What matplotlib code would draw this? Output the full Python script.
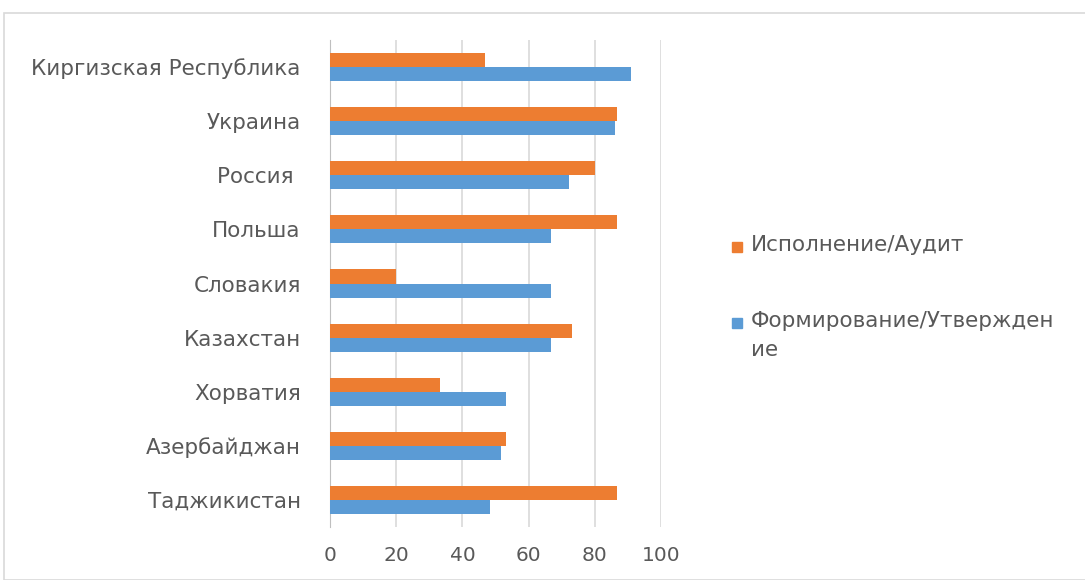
"""Horizontal grouped bar chart: budget process stages by country."""

import matplotlib

matplotlib.use("Agg")
import matplotlib.pyplot as plt  # noqa: E402
from matplotlib.patches import Rectangle  # noqa: E402
import numpy as np  # noqa: E402

# bottom to top
countries = ["Таджикистан", "Азербайджан", "Хорватия", "Казахстан", "Словакия",
             "Польша", "Россия ", "Украина", "Киргизская Республика"]
audit = [86.7, 53.1, 33.3, 73.0, 20.0, 86.7, 80.0, 86.7, 46.8]
formation = [48.2, 51.6, 53.1, 66.7, 66.7, 66.7, 72.3, 86.0, 90.9]
ticks = [0, 20, 40, 60, 80, 100]

ORANGE = "#ed7d31"
BLUE = "#5b9bd5"
GREY = "#595959"
W, H = 1085, 580

plt.rcParams["font.family"] = ["DejaVu Sans"]

fig = plt.figure(figsize=(W / 100, H / 100), dpi=100)
fig.patches.append(Rectangle((4 / W, 0), 1.2, 1 - 13 / H, transform=fig.transFigure,
                             fill=False, edgecolor="#d9d9d9", linewidth=1.2))

ax = fig.add_axes([330 / W, 53 / H, 331 / W, 487 / H])
y = np.arange(len(countries))
h = 0.26
ax.barh(y + h / 2, audit, height=h, color=ORANGE, label="Исполнение/Аудит", zorder=3)
ax.barh(y - h / 2, formation, height=h, color=BLUE, label="Формирование/Утверждение", zorder=3)

ax.set_xlim(0, 100)
ax.set_ylim(-0.5, len(countries) - 0.5)
ax.set_xticks(ticks)
ax.set_yticks(y)
ax.set_yticklabels(countries)
ax.grid(axis="x", color="#d9d9d9", linewidth=1.2, zorder=0)
for s in ["top", "right", "bottom"]:
    ax.spines[s].set_visible(False)
ax.spines["left"].set_color("#bfbfbf")
ax.tick_params(axis="both", length=0, labelcolor=GREY)
ax.tick_params(axis="y", pad=21, labelsize=15.5)
ax.tick_params(axis="x", pad=14, labelsize=14.5)

# legend drawn by hand so the marker sits on the first line of the wrapped label
legend = [(ORANGE, "Исполнение/Аудит", 247),
          (BLUE, "Формирование/Утвержден\nие", 323)]
for color, text, ypx in legend:
    fig.patches.append(Rectangle((732 / W, 1 - (ypx + 5) / H), 10 / W, 10 / H,
                                 transform=fig.transFigure, color=color))
    fig.text(751 / W, 1 - (ypx - 12) / H, text, fontsize=15.5, color=GREY,
             va="top", ha="left", linespacing=1.55)

plt.savefig("out.png", dpi=100)
plt.close()
